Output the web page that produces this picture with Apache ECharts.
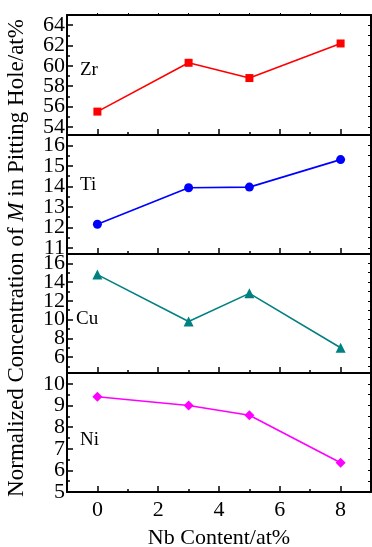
<!DOCTYPE html>
<html>
<head>
<meta charset="utf-8">
<script src="https://cdn.jsdelivr.net/npm/echarts@6/dist/echarts.min.js"></script>
<style>
  html, body { margin: 0; padding: 0; background: #fff; }
  #main { width: 372px; height: 547px; }
</style>
</head>
<body>
<div id="main"></div>
<script>
// Nb content (x) shared by all four panels
const nbContent = [0, 3, 5, 8];

// normalized concentration of each element
const zrValues = [55.5, 60.3, 58.8, 62.2];
const tiValues = [12.15, 13.93, 13.96, 15.3];
const cuValues = [14.8, 9.8, 12.8, 7.0];
const niValues = [9.4, 9.0, 8.55, 6.35];

// x ticks
const xMajorTicks = [0, 2, 4, 6, 8];
const xMinorTicks = [1, 3, 5, 7];

// y ticks per panel
const zrMajor = [54, 56, 58, 60, 62, 64];
const zrMinor = [55, 57, 59, 61, 63];
const tiMajor = [11, 12, 13, 14, 15, 16];
const tiMinor = [11.5, 12.5, 13.5, 14.5, 15.5];
const cuMajor = [6, 8, 10, 12, 14, 16];
const cuMinor = [5, 7, 9, 11, 13, 15];
const niMajor = [5, 6, 7, 8, 9, 10];
const niMinor = [5.5, 6.5, 7.5, 8.5, 9.5];

const FONT = '"Liberation Serif", "Times New Roman", serif';

const panels = [
  { name: 'Zr', data: zrValues, major: zrMajor, minor: zrMinor, min: 53.2, max: 65, color: '#ff0000', symbol: 'rect', size: 8, top: 15, labelY: 72 },
  { name: 'Ti', data: tiValues, major: tiMajor, minor: tiMinor, min: 10.7, max: 16.5, color: '#0000ff', symbol: 'circle', size: 9, top: 135, labelY: 187 },
  { name: 'Cu', data: cuValues, major: cuMajor, minor: cuMinor, min: 4.3, max: 17, color: '#008080', symbol: 'triangle', size: 10, top: 254, labelY: 321 },
  { name: 'Ni', data: niValues, major: niMajor, minor: niMinor, min: 5, max: 10.5, color: '#ff00ff', symbol: 'diamond', size: 10, top: 373, labelY: 442 }
];

const grid = [];
const xAxis = [];
const yAxis = [];
const series = [];
const graphic = [];
const lineBlack = { color: '#000', width: 2 };

function yLabel(values) {
  return {
    customValues: values, color: '#000', fontFamily: FONT, fontSize: 22, margin: 2,
    showMinLabel: true, showMaxLabel: true, hideOverlap: false
  };
}

panels.forEach(function (p, i) {
  const h = i === 0 ? 120 : 119;
  // main grid + overlay grid (minor ticks, every other label so none get dropped)
  grid.push({ left: 67, width: 304, top: p.top, height: h });
  grid.push({ left: 67, width: 304, top: p.top, height: h });
  const g = i * 2;
  const last = i === panels.length - 1;
  const labelsA = p.major.filter(function (v, k) { return k % 2 === 0; });
  const labelsB = p.major.filter(function (v, k) { return k % 2 === 1; });

  // bottom x axis (main)
  xAxis.push({
    gridIndex: g, type: 'value', min: -1, max: 9, position: 'bottom',
    axisLine: { onZero: false, lineStyle: lineBlack },
    axisTick: { inside: true, length: 6, customValues: xMajorTicks, lineStyle: { color: '#000', width: 1.5 } },
    axisLabel: { show: last, customValues: xMajorTicks, color: '#000', fontFamily: FONT, fontSize: 22, margin: 7, hideOverlap: false },
    splitLine: { show: false }
  });
  // top x axis (frame)
  xAxis.push({
    gridIndex: g, type: 'value', min: -1, max: 9, position: 'top',
    axisLine: { onZero: false, lineStyle: lineBlack },
    axisTick: { show: i === 0, inside: false, length: 2, customValues: [0, 1, 2, 3, 4, 5, 6, 7, 8], lineStyle: { color: '#000', width: 1 } },
    axisLabel: { show: false },
    splitLine: { show: false }
  });
  // minor x ticks
  xAxis.push({
    gridIndex: g + 1, type: 'value', min: -1, max: 9, position: 'bottom',
    axisLine: { show: false, onZero: false },
    axisTick: { inside: true, length: 3, customValues: xMinorTicks, lineStyle: { color: '#000', width: 1.5 } },
    axisLabel: { show: false },
    splitLine: { show: false }
  });

  // left y axis (main)
  yAxis.push({
    gridIndex: g, type: 'value', min: p.min, max: p.max, position: 'left',
    axisLine: { onZero: false, lineStyle: lineBlack },
    axisTick: { inside: true, length: 6, customValues: p.major, lineStyle: { color: '#000', width: 1.5 } },
    axisLabel: yLabel(labelsA),
    splitLine: { show: false }
  });
  // right y axis (frame)
  yAxis.push({
    gridIndex: g, type: 'value', min: p.min, max: p.max, position: 'right',
    axisLine: { onZero: false, lineStyle: lineBlack },
    axisTick: { inside: true, length: 3, customValues: p.major.concat(p.minor), lineStyle: { color: '#000', width: 1 } },
    axisLabel: { show: false },
    splitLine: { show: false }
  });
  // minor y ticks + remaining labels
  yAxis.push({
    gridIndex: g + 1, type: 'value', min: p.min, max: p.max, position: 'left',
    axisLine: { show: false, onZero: false },
    axisTick: { inside: true, length: 3, customValues: p.minor, lineStyle: { color: '#000', width: 1.5 } },
    axisLabel: yLabel(labelsB),
    splitLine: { show: false }
  });

  series.push({
    name: p.name, type: 'line',
    xAxisIndex: i * 3, yAxisIndex: i * 3,
    data: nbContent.map(function (x, k) { return [x, p.data[k]]; }),
    symbol: p.symbol, symbolSize: p.size,
    lineStyle: { color: p.color, width: 1.6 },
    itemStyle: { color: p.color },
    z: 5
  });

  graphic.push({
    type: 'text', left: p.name === 'Cu' ? 76 : 80, top: p.labelY - 11,
    style: { text: p.name, fill: '#000', font: '19px ' + FONT }
  });
});

// y axis title, rotated
graphic.push({
  type: 'text', x: 17, y: 258, rotation: Math.PI / 2,
  style: {
    text: '{a|Normalized Concentration of }{b|M}{a| in Pitting Hole/at%}',
    align: 'center', verticalAlign: 'middle',
    rich: {
      a: { fontFamily: FONT, fontSize: 23, fill: '#000' },
      b: { fontFamily: FONT, fontSize: 23, fontStyle: 'italic', fill: '#000' }
    }
  }
});

// x axis title
graphic.push({
  type: 'text', x: 219, y: 538,
  style: { text: 'Nb Content/at%', align: 'center', verticalAlign: 'middle', fill: '#000', font: '22px ' + FONT }
});

const myChart = echarts.init(document.getElementById('main'));
myChart.setOption({
  animation: false,
  backgroundColor: '#fff',
  grid: grid,
  xAxis: xAxis,
  yAxis: yAxis,
  series: series,
  graphic: graphic
});
</script>
</body>
</html>
